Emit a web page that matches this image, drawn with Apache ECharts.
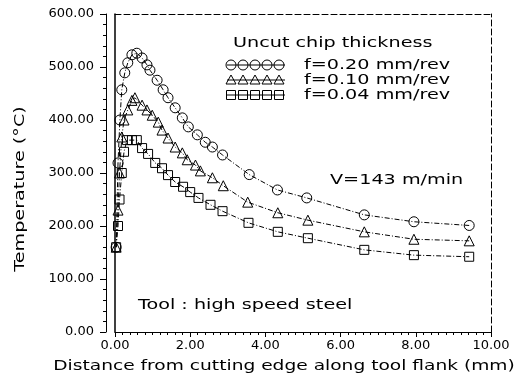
<!DOCTYPE html>
<html>
<head>
<meta charset="utf-8">
<script src="https://cdn.jsdelivr.net/npm/echarts@6/dist/echarts.min.js"></script>
<style>
  html, body { margin: 0; padding: 0; background: #fff; }
  #chart { width: 521px; height: 376px; }
</style>
</head>
<body>
<div id="chart"></div>
<script>
// f = 0.20 mm/rev (circles)
const dist020 = [0.03, 0.08, 0.13, 0.18, 0.26, 0.34, 0.45, 0.58, 0.72, 0.85, 0.93, 1.12, 1.28, 1.41, 1.60, 1.79, 1.95, 2.19, 2.40, 2.59, 2.86, 3.57, 4.32, 5.10, 6.63, 7.95, 9.42]
const temp020 = [160, 319, 400, 457, 489, 508, 523, 526, 517, 504, 494, 475, 457, 442, 423, 404, 387, 372, 358, 349, 334, 297, 268, 253, 221, 208, 201]

// f = 0.10 mm/rev (triangles)
const dist010 = [0.03, 0.08, 0.12, 0.18, 0.24, 0.34, 0.45, 0.53, 0.72, 0.85, 0.99, 1.15, 1.25, 1.41, 1.60, 1.79, 1.92, 2.14, 2.27, 2.59, 2.88, 3.53, 4.33, 5.13, 6.63, 7.95, 9.42]
const temp010 = [160, 230, 300, 368, 400, 419, 437, 442, 428, 419, 409, 396, 381, 366, 349, 338, 325, 315, 304, 291, 276, 245, 225, 211, 189, 175, 172]

// f = 0.04 mm/rev (squares)
const dist004 = [0.03, 0.08, 0.12, 0.18, 0.24, 0.32, 0.45, 0.58, 0.72, 0.88, 1.07, 1.25, 1.41, 1.60, 1.81, 2.00, 2.22, 2.54, 2.86, 3.55, 4.33, 5.13, 6.63, 7.95, 9.42]
const temp004 = [160, 200, 250, 300, 340, 362, 362, 362, 347, 336, 319, 309, 296, 283, 274, 264, 253, 240, 228, 206, 189, 177, 155, 145, 142]

const legendLabels = ['f=0.20 mm/rev', 'f=0.10 mm/rev', 'f=0.04 mm/rev']
const legendSymbols = ['circle', 'triangle', 'rect']

const FONT = 'DejaVu Sans'
const WIDE = 1.37 // the plotter lettering is spaced much wider than a normal font

const pairs = (xs, ys) => xs.map((x, i) => [x, ys[i]])

const chart = echarts.init(document.getElementById('chart'))

const lineSeries = (name, symbol, size, data) => ({
  name: name,
  type: 'line',
  data: data,
  symbol: symbol,
  symbolSize: size,
  showAllSymbol: true,
  xAxisIndex: 0,
  yAxisIndex: 0,
  itemStyle: { color: 'transparent', borderColor: '#000', borderWidth: 1 },
  lineStyle: { color: '#000', width: 1, type: [5, 2, 1, 2] },
  emphasis: { disabled: true },
  z: 3
})

// legend glyphs: a short line with five markers, like the original plotter key
const legendGraphics = []
legendLabels.forEach((label, i) => {
  const y = 65 + i * 15
  const children = [{
    type: 'line',
    shape: { x1: 227, y1: y, x2: 285, y2: y },
    style: { stroke: '#000', lineWidth: 1 }
  }]
  for (let k = 0; k < 5; k++) {
    const cx = 231 + k * 12
    if (legendSymbols[i] === 'circle') {
      children.push({ type: 'circle', shape: { cx: cx, cy: y, r: 5 }, style: { fill: 'none', stroke: '#000', lineWidth: 1 } })
    } else if (legendSymbols[i] === 'triangle') {
      children.push({ type: 'polygon', shape: { points: [[cx, y - 5], [cx + 5, y + 4], [cx - 5, y + 4]] }, style: { fill: 'none', stroke: '#000', lineWidth: 1 } })
    } else {
      children.push({ type: 'rect', shape: { x: cx - 4.5, y: y - 4.5, width: 9, height: 9 }, style: { fill: 'none', stroke: '#000', lineWidth: 1 } })
    }
  }
  children.push({
    type: 'text', x: 304, y: y, scaleX: WIDE,
    style: { text: label, font: '14px ' + FONT, fill: '#000', textVerticalAlign: 'middle' }
  })
  legendGraphics.push({ type: 'group', children: children })
})

const textItem = (text, x, y, align, rotation, scale) => ({
  type: 'text', x: x, y: y, scaleX: scale || WIDE, rotation: rotation || 0,
  style: { text: text, font: '14px ' + FONT, fill: '#000', textAlign: align, textVerticalAlign: 'middle' }
})

const option = {
  animation: false,
  backgroundColor: '#fff',
  grid: { left: 115, right: 30, top: 14, bottom: 44, show: false },
  xAxis: [{
    type: 'value',
    min: 0, max: 10, interval: 2,
    axisLine: { show: true, onZero: false, lineStyle: { color: '#000', width: 1 } },
    axisTick: { show: true, inside: false, length: 5, lineStyle: { color: '#000' } },
    minorTick: { show: true, splitNumber: 10, length: 3, lineStyle: { color: '#000' } },
    splitLine: { show: false },
    axisLabel: { formatter: v => v.toFixed(2), fontFamily: FONT, fontSize: 13, color: '#000', margin: 7 }
  }, {
    type: 'value', position: 'top',
    min: 0, max: 10,
    axisLine: { show: true, onZero: false, lineStyle: { color: '#000', width: 1, type: [6, 3] } },
    axisTick: { show: false }, axisLabel: { show: false }, splitLine: { show: false }
  }],
  yAxis: [{
    type: 'value', position: 'left', offset: 9,
    min: 0, max: 600, interval: 100,
    axisLine: { show: true, onZero: false, lineStyle: { color: '#000', width: 1 } },
    axisTick: { show: true, inside: false, length: 6, lineStyle: { color: '#000' } },
    minorTick: { show: true, splitNumber: 5, length: 3, lineStyle: { color: '#000' } },
    splitLine: { show: false },
    axisLabel: { formatter: v => v.toFixed(2), fontFamily: FONT, fontSize: 13, color: '#000', margin: 12 }
  }, {
    type: 'value', position: 'left', offset: 0,
    min: 0, max: 600,
    axisLine: { show: true, onZero: false, lineStyle: { color: '#000', width: 1.5 } },
    axisTick: { show: false }, axisLabel: { show: false }, splitLine: { show: false }
  }, {
    type: 'value', position: 'right',
    min: 0, max: 600,
    axisLine: { show: true, onZero: false, lineStyle: { color: '#000', width: 1, type: [6, 3] } },
    axisTick: { show: false }, axisLabel: { show: false }, splitLine: { show: false }
  }],
  series: [
    lineSeries('f=0.20 mm/rev', 'circle', 10, pairs(dist020, temp020)),
    lineSeries('f=0.10 mm/rev', 'triangle', 10, pairs(dist010, temp010)),
    lineSeries('f=0.04 mm/rev', 'rect', 9, pairs(dist004, temp004))
  ],
  graphic: [
    textItem('Uncut chip thickness', 233, 43, 'left'),
    ...legendGraphics,
    textItem('V=143 m/min', 330, 180, 'left'),
    textItem('Tool : high speed steel', 138, 305, 'left'),
    textItem('Distance from cutting edge along tool flank (mm)', 284, 366, 'center', 0, 1.33),
    textItem('Temperature (°C)', 20, 189, 'center', Math.PI / 2)
  ]
}

chart.setOption(option)
</script>
</body>
</html>
